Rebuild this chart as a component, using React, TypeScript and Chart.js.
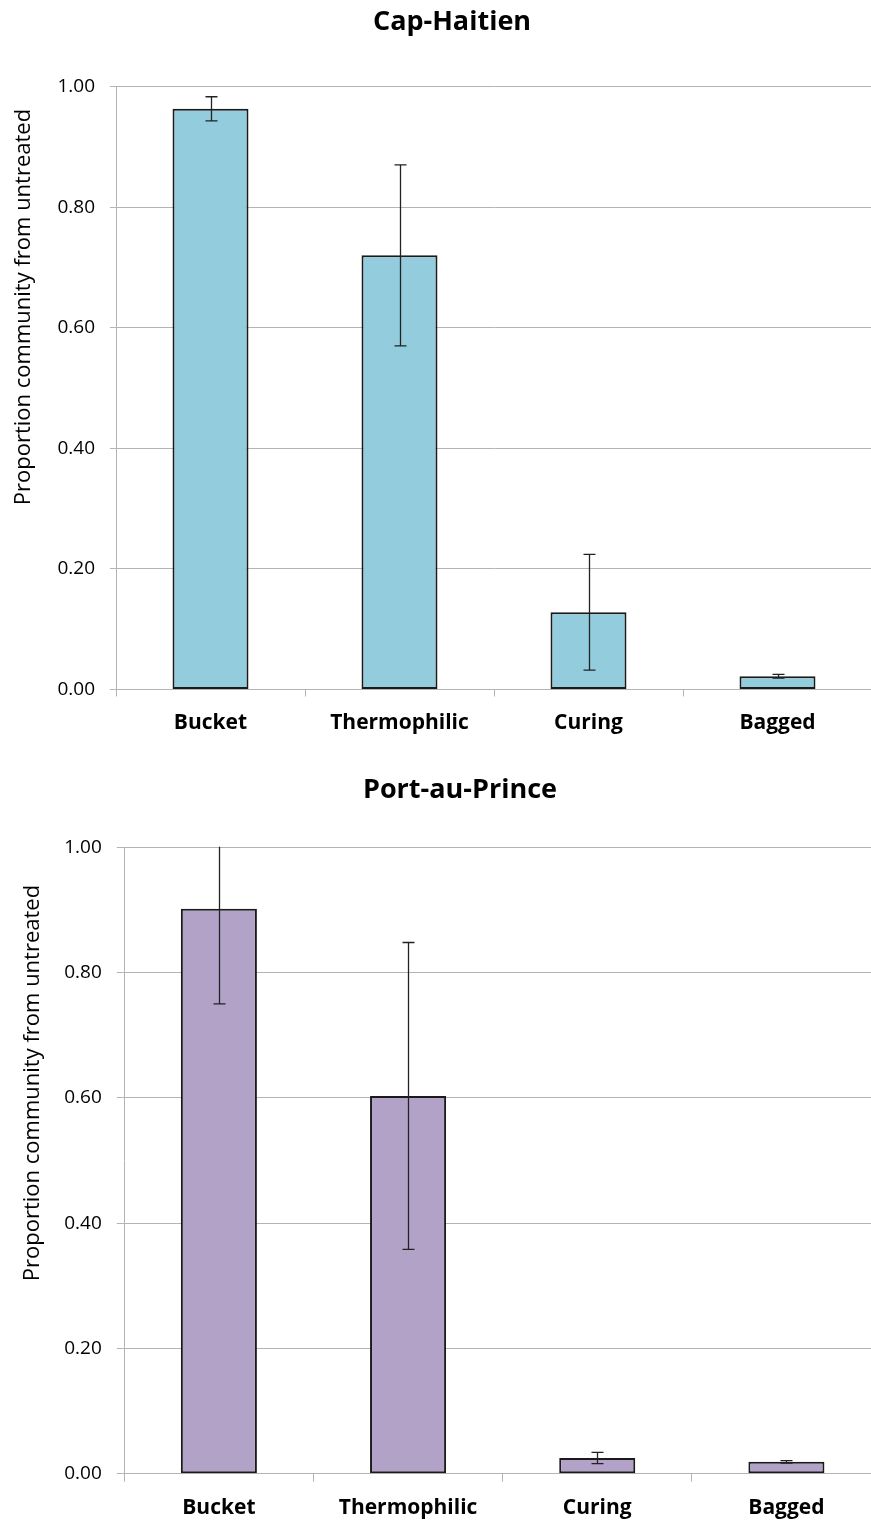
import React, { useEffect, useRef } from "react";
import { Chart, registerables } from "chart.js";

Chart.register(...registerables);

const categories = ["Bucket", "Thermophilic", "Curing", "Bagged"];
const capHaitienValues = [0.963, 0.72, 0.128, 0.022];
const capHaitienErrors = [0.02, 0.15, 0.096, 0.003];
const portAuPrinceValues = [0.902, 0.603, 0.025, 0.019];
const portAuPrinceErrors = [0.152, 0.245, 0.009, 0.002];
const yTickValues = [0, 0.2, 0.4, 0.6, 0.8, 1.0];
const yAxisTitle = "Proportion community from untreated";

const FONT = "'Open Sans', sans-serif";
const GRID = "#b4b4b4";

const errorBarPlugin = {
  id: "errorBars",
  afterDatasetsDraw(chart: any, _args: any, opts: any) {
    const { ctx, chartArea } = chart;
    const meta = chart.getDatasetMeta(0);
    const y = chart.scales.y;
    const values = chart.data.datasets[0].data;
    ctx.save();
    ctx.beginPath();
    ctx.rect(chartArea.left, chartArea.top - 0.5, chartArea.right - chartArea.left, chartArea.bottom - chartArea.top + 1);
    ctx.clip();
    ctx.strokeStyle = opts.color;
    ctx.lineWidth = 1.3;
    meta.data.forEach((bar: any, i: number) => {
      const v = values[i];
      const e = opts.errors[i];
      const x = Math.round(bar.x) + 0.5;
      const yTop = y.getPixelForValue(v + e);
      const yBot = y.getPixelForValue(v - e);
      const half = opts.capWidth / 2;
      ctx.beginPath();
      ctx.moveTo(x, yTop);
      ctx.lineTo(x, yBot);
      if (v + e <= y.max) {
        ctx.moveTo(x - half, yTop);
        ctx.lineTo(x + half, yTop);
      }
      ctx.moveTo(x - half, yBot);
      ctx.lineTo(x + half, yBot);
      ctx.stroke();
    });
    ctx.restore();
  },
};

const yTitlePlugin = {
  id: "yTitle",
  afterDraw(chart: any, _args: any, opts: any) {
    const { ctx } = chart;
    ctx.save();
    ctx.translate(opts.x, opts.y);
    ctx.rotate(-Math.PI / 2);
    ctx.font = `${opts.size}px ${FONT}`;
    ctx.fillStyle = "#000";
    ctx.textAlign = "center";
    ctx.textBaseline = "middle";
    ctx.fillText(opts.text, 0, 0);
    ctx.restore();
  },
};

type Panel = {
  title: string;
  values: number[];
  errors: number[];
  color: string;
  width: number;
  height: number;
  padLeft: number;
  yWidth: number;
  titleTop: number;
  titleBottom: number;
  xHeight: number;
  xTick: number;
  yTick: number;
  yTitleX: number;
  yTitleY: number;
};

function makeConfig(p: Panel): any {
  return {
    type: "bar",
    data: {
      labels: categories,
      datasets: [
        {
          data: p.values,
          backgroundColor: p.color,
          borderColor: "#1a1a1a",
          borderWidth: 2,
          borderSkipped: false,
          categoryPercentage: 1,
          barPercentage: 0.402,
        },
      ],
    },
    options: {
      responsive: false,
      animation: false,
      devicePixelRatio: 1,
      layout: { padding: { left: p.padLeft, right: 0, top: 0, bottom: 0 } },
      plugins: {
        legend: { display: false },
        tooltip: { enabled: false },
        title: {
          display: true,
          text: p.title,
          color: "#000",
          font: { family: FONT, size: 27, weight: "bold", lineHeight: 1.2 },
          padding: { top: p.titleTop, bottom: p.titleBottom },
        },
        errorBars: { errors: p.errors, color: "#222", capWidth: 12 },
        yTitle: { text: yAxisTitle, x: p.yTitleX, y: p.yTitleY, size: 22 },
      },
      scales: {
        x: {
          afterFit: (s: any) => {
            s.height = p.xHeight;
          },
          grid: { offset: true, drawOnChartArea: false, tickLength: p.xTick, color: GRID },
          border: { color: GRID },
          ticks: {
            color: "#000",
            font: { family: FONT, size: 21, weight: "bold" },
            padding: 14,
          },
        },
        y: {
          min: 0,
          max: 1,
          afterFit: (s: any) => {
            s.width = p.yWidth;
          },
          afterBuildTicks: (s: any) => {
            s.ticks = yTickValues.map((v) => ({ value: v }));
          },
          grid: { color: GRID, tickLength: p.yTick },
          border: { color: GRID },
          ticks: {
            color: "#000",
            font: { family: FONT, size: 19 },
            padding: 15,
            callback: (v: any) => Number(v).toFixed(2),
          },
        },
      },
    },
    plugins: [errorBarPlugin, yTitlePlugin],
  };
}

const topPanel: Panel = {
  title: "Cap-Haitien",
  values: capHaitienValues,
  errors: capHaitienErrors,
  color: "#93cddd",
  width: 872,
  height: 750,
  padLeft: 32,
  yWidth: 84,
  titleTop: 5.8,
  titleBottom: 48.3,
  xHeight: 60.5,
  xTick: 7,
  yTick: 6,
  yTitleX: 24,
  yTitleY: 307,
};

const bottomPanel: Panel = {
  title: "Port-au-Prince",
  values: portAuPrinceValues,
  errors: portAuPrinceErrors,
  color: "#b2a2c7",
  width: 881,
  height: 771,
  padLeft: 39,
  yWidth: 85.3,
  titleTop: 23.8,
  titleBottom: 41.1,
  xHeight: 47.3,
  xTick: 8,
  yTick: 7.5,
  yTitleX: 32.5,
  yTitleY: 333,
};

function BarPanel({ panel, top }: { panel: Panel; top: number }) {
  const ref = useRef<HTMLCanvasElement | null>(null);
  useEffect(() => {
    if (!ref.current) return;
    const chart = new Chart(ref.current, makeConfig(panel));
    return () => chart.destroy();
  }, [panel]);
  return (
    <canvas
      ref={ref}
      width={panel.width}
      height={panel.height}
      style={{ position: "absolute", left: 0, top, width: panel.width, height: panel.height }}
    />
  );
}

export default function App() {
  return (
    <div
      style={{
        position: "absolute",
        left: 0,
        top: 0,
        width: 871,
        height: 1521,
        overflow: "hidden",
        background: "#fff",
      }}
    >
      <BarPanel panel={topPanel} top={0} />
      <BarPanel panel={bottomPanel} top={750} />
    </div>
  );
}
